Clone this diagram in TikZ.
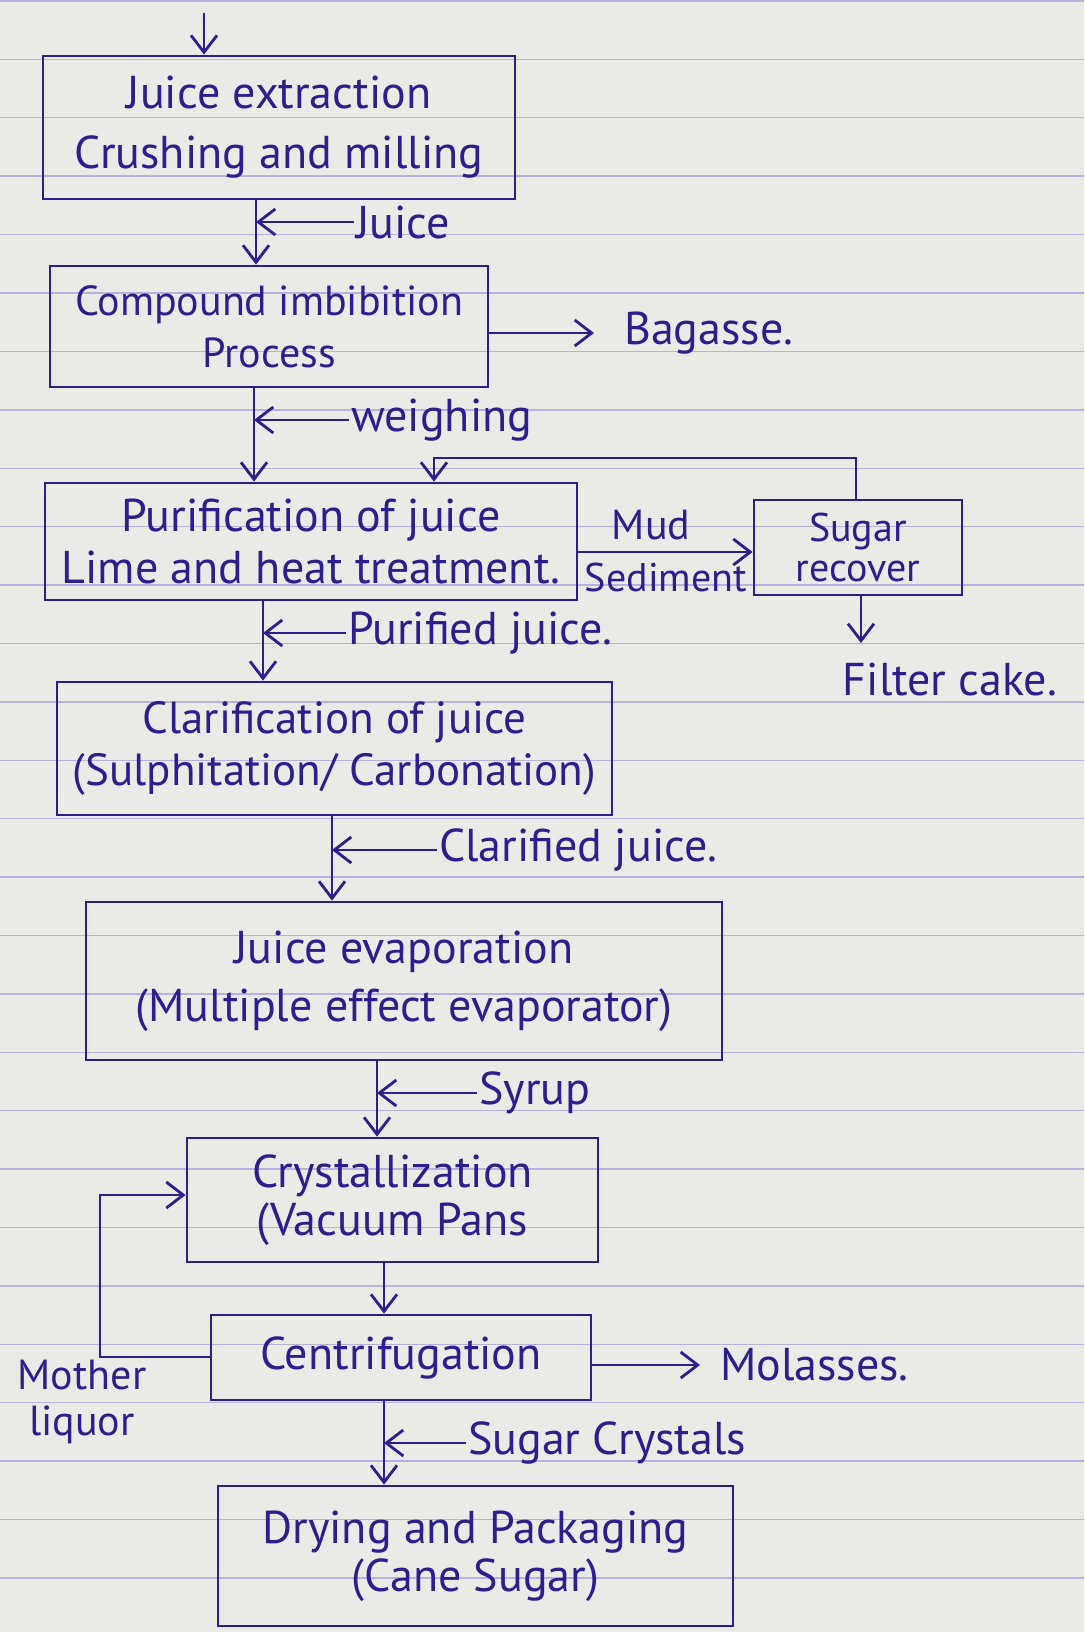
\documentclass[tikz,border=0pt]{standalone}
\usepackage{fontspec}
\setmainfont{PT Sans}
\usetikzlibrary{arrows.meta}
\definecolor{ink}{RGB}{44,30,140}
\definecolor{paper}{RGB}{234,234,231}
\definecolor{ruling}{RGB}{185,176,222}
\begin{document}
\begin{tikzpicture}[x=1pt,y=-1pt,
  box/.style={draw=ink, line width=2.8pt, align=center, text=ink, inner sep=0pt,
    font=\fontsize{46}{54}\selectfont},
  lbl/.style={text=ink, inner sep=2pt, font=\fontsize{46}{46}\selectfont},
  arr/.style={draw=ink, line width=2.8pt, -{Straight Barb[length=17pt,width=26pt,line width=2.8pt]}}]
% paper
\fill[paper] (0,0) rectangle (1084,1632);
\useasboundingbox (0,0) rectangle (1084,1632);
\foreach \k in {0,...,27} \draw[ruling, line width=1.4pt] (0,{1+58.4*\k}) -- (1084,{1+58.4*\k});
% boxes
\node[box, minimum width=472pt, minimum height=143pt, font=\fontsize{46}{60}\selectfont] (b1) at (279,127.5) {Juice extraction\\Crushing and milling};
\node[box, minimum width=438pt, minimum height=121pt, font=\fontsize{42}{52}\selectfont] (b2) at (269,326.5) {Compound imbibition\\Process};
\node[box, minimum width=532pt, minimum height=117pt, font=\fontsize{46}{52}\selectfont] (b3) at (311,541.5) {Purification of juice\\Lime and heat treatment.};
\node[box, minimum width=208pt, minimum height=95pt, font=\fontsize{40}{40}\selectfont] (b4) at (858,547.5) {Sugar\\recover};
\node[box, minimum width=555pt, minimum height=133pt, font=\fontsize{45}{52}\selectfont] (b5) at (334.5,748.5) {Clarification of juice\\(Sulphitation/ Carbonation)};
\node[box, minimum width=636pt, minimum height=158pt, font=\fontsize{46}{58}\selectfont] (b6) at (404,981) {Juice evaporation\\(Multiple effect evaporator)};
\node[box, minimum width=411pt, minimum height=124pt, font=\fontsize{46}{48}\selectfont] (b7) at (392.5,1200) {Crystallization\\(Vacuum Pans};
\node[box, minimum width=380pt, minimum height=85pt] (b8) at (401,1357.5) {Centrifugation};
\node[box, minimum width=515pt, minimum height=140pt, font=\fontsize{46}{48}\selectfont] (b9) at (475.5,1556) {Drying and Packaging\\(Cane Sugar)};
% labels
\node[lbl, anchor=west] (ljuice) at (354,222) {Juice};
\node[lbl, anchor=west] (lbag) at (622,333) {Bagasse.};
\node[lbl, anchor=west] (lweigh) at (349,420) {weighing};
\node[lbl, font=\fontsize{42}{42}\selectfont] (lmud) at (651,525) {Mud};
\node[lbl, font=\fontsize{40}{40}\selectfont] (lsed) at (666,577) {Sediment};
\node[lbl] (lfilter) at (950,679) {Filter cake.};
\node[lbl, anchor=west] (lpur) at (346,633) {Purified juice.};
\node[lbl, anchor=west] (lclar) at (437,850) {Clarified juice.};
\node[lbl, anchor=west] (lsyrup) at (477,1093) {Syrup};
\node[lbl, anchor=west] (lmol) at (718,1365) {Molasses.};
\node[lbl, align=center, font=\fontsize{42}{46}\selectfont] (lmother) at (82,1402) {Mother\\liquor};
\node[lbl, anchor=west] (lsc) at (466,1443) {Sugar Crystals};
% coordinates
\coordinate (start) at (204,13);
\coordinate (v1) at (256,0);
\coordinate (v2) at (254,0);
\coordinate (v3) at (263,0);
\coordinate (v4) at (332,0);
\coordinate (v5) at (377,0);
\coordinate (v6) at (384,0);
\coordinate (my) at (0,552);
\coordinate (fx) at (861,0);
\coordinate (fcend) at (861,643);
\coordinate (sl1) at (856,458);
\coordinate (sl2) at (434,458);
\coordinate (ml1) at (100,1357);
\coordinate (ml2) at (100,1195);
% main flow
\draw[arr] (start) -- (start |- b1.north);
\draw[arr] (v1 |- b1.south) -- (v1 |- b2.north);
\draw[arr] (v2 |- b2.south) -- (v2 |- b3.north);
\draw[arr] (v3 |- b3.south) -- (v3 |- b5.north);
\draw[arr] (v4 |- b5.south) -- (v4 |- b6.north);
\draw[arr] (v5 |- b6.south) -- (v5 |- b7.north);
\draw[arr] (v6 |- b7.south) -- (v6 |- b8.north);
\draw[arr] (v6 |- b8.south) -- (v6 |- b9.north);
% label arrows
\draw[arr] (ljuice.west) -- (ljuice.west -| v1);
\draw[arr] (lweigh.west) -- (lweigh.west -| v2);
\draw[arr] (lpur.west) -- (lpur.west -| v3);
\draw[arr] (lclar.west) -- (lclar.west -| v4);
\draw[arr] (lsyrup.west) -- (lsyrup.west -| v5);
\draw[arr] (lsc.west) -- (lsc.west -| v6);
% side outputs
\draw[arr, shorten >=28pt] (b2.east |- lbag.west) -- (lbag.west);
\draw[arr, shorten >=18pt] (b8.east |- lmol.west) -- (lmol.west);
\draw[arr] (b3.east |- my) -- (b4.west |- my);
\draw[arr] (b4.south -| fx) -- (fcend);
% loops
\draw[arr] (b4.north -| sl1) -- (sl1) -- (sl2) -- (sl2 |- b3.north);
\draw[arr] (b8.west |- ml1) -- (ml1) -- (ml2) -- (b7.west |- ml2);
\end{tikzpicture}
\end{document}
